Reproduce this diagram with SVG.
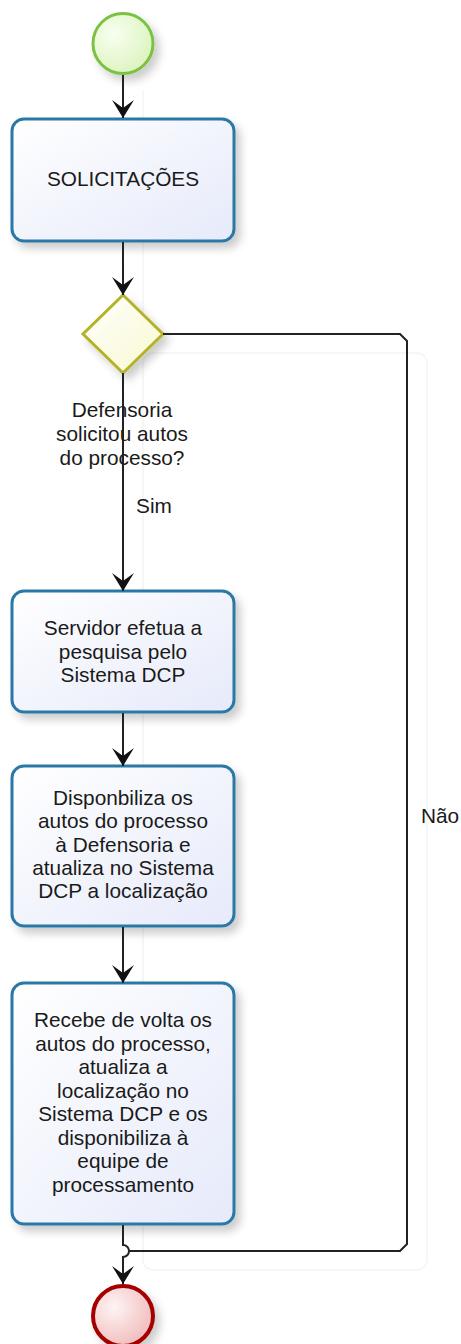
<svg xmlns="http://www.w3.org/2000/svg" width="461" height="1344" viewBox="0 0 461 1344">
<defs>
<linearGradient id="gBox" x1="0" y1="0" x2="1" y2="1"><stop offset="0" stop-color="#ffffff"/><stop offset="1" stop-color="#e6eafa"/></linearGradient>
<radialGradient id="gStart" cx="0.35" cy="0.35" r="0.8"><stop offset="0" stop-color="#f8fff0"/><stop offset="1" stop-color="#d8f2b8"/></radialGradient>
<radialGradient id="gEnd" cx="0.35" cy="0.35" r="0.8"><stop offset="0" stop-color="#fff4f4"/><stop offset="1" stop-color="#efb4b4"/></radialGradient>
<linearGradient id="gGw" x1="0" y1="0" x2="1" y2="1"><stop offset="0" stop-color="#ffffff"/><stop offset="1" stop-color="#f8f8d0"/></linearGradient>
<filter id="sh" x="-20%" y="-20%" width="150%" height="150%"><feDropShadow dx="5" dy="6" stdDeviation="4.5" flood-color="#000" flood-opacity="0.2"/></filter>
<marker id="arr" viewBox="-18 -12 19 24" refX="0" refY="0" markerWidth="19" markerHeight="24" orient="auto" markerUnits="userSpaceOnUse"><path d="M0,0 L-18,-11 L-10,0 L-18,11 Z" fill="#111"/></marker>
</defs>
<style>
.box{fill:url(#gBox);stroke:#2b78a6;stroke-width:3;filter:url(#sh)}
.t{font-family:"Liberation Sans",Arial,sans-serif;font-size:20.8px;fill:#1a1a1a;text-anchor:middle}
.c{fill:none;stroke:#222;stroke-width:2}
.faint{fill:none;stroke:#f4f4f4;stroke-width:1.5}
</style>
<g id="bg">
<path class="faint" d="M143,90 V353"/>
<rect class="faint" x="143" y="353" width="284" height="917" rx="10"/>
</g>
<g id="start"><circle cx="123" cy="43.5" r="30" fill="url(#gStart)" stroke="#7cc242" stroke-width="3" filter="url(#sh)"/></g>
<g id="solicitacoes"><rect class="box" x="12" y="119" width="222" height="122" rx="12"/><text class="t" x="123" y="186">SOLICITAÇÕES</text></g>
<g id="gateway"><polygon points="123,295 163,334 123,373 83,334" fill="url(#gGw)" stroke="#b3b328" stroke-width="3" filter="url(#sh)"/>
<text class="t"><tspan x="122" y="417">Defensoria</tspan><tspan x="122" y="441">solicitou autos</tspan><tspan x="122" y="465">do processo?</tspan></text></g>
<g id="servidor"><rect class="box" x="12" y="591" width="222" height="121" rx="12"/>
<text class="t"><tspan x="123" y="635">Servidor efetua a</tspan><tspan x="123" y="658.5">pesquisa pelo</tspan><tspan x="123" y="682">Sistema DCP</tspan></text></g>
<g id="disponibiliza"><rect class="box" x="12" y="766" width="222" height="160" rx="12"/>
<text class="t"><tspan x="123" y="805">Disponbiliza os</tspan><tspan x="123" y="828.3">autos do processo</tspan><tspan x="123" y="851.6">à Defensoria e</tspan><tspan x="123" y="874.9">atualiza no Sistema</tspan><tspan x="123" y="898.2">DCP a localização</tspan></text></g>
<g id="recebe"><rect class="box" x="12" y="983" width="222" height="241" rx="12"/>
<text class="t"><tspan x="123" y="1027">Recebe de volta os</tspan><tspan x="123" y="1050.5">autos do processo,</tspan><tspan x="123" y="1074">atualiza a</tspan><tspan x="123" y="1097.5">localização no</tspan><tspan x="123" y="1121">Sistema DCP e os</tspan><tspan x="123" y="1144.5">disponibiliza à</tspan><tspan x="123" y="1168">equipe de</tspan><tspan x="123" y="1191.5">processamento</tspan></text></g>
<g id="end"><circle cx="123" cy="1316" r="30" fill="url(#gEnd)" stroke="#a40000" stroke-width="4" filter="url(#sh)"/></g>
<g id="connectors">
<path class="c" d="M123,75 V118" marker-end="url(#arr)"/>
<path class="c" d="M123,242 V295" marker-end="url(#arr)"/>
<path class="c" d="M123,373 V591" marker-end="url(#arr)"/>
<path class="c" d="M123,713 V766" marker-end="url(#arr)"/>
<path class="c" d="M123,927 V983" marker-end="url(#arr)"/>
<path class="c" d="M123,1225 V1245 A6,6 0 0 1 123,1257 V1284" marker-end="url(#arr)"/>
<path class="c" d="M163,334 H400 L407,341 V1244 L400,1251 H129"/>
<text class="t" x="440" y="823">Não</text>
<text class="t" x="154" y="513">Sim</text>
</g>
</svg>
